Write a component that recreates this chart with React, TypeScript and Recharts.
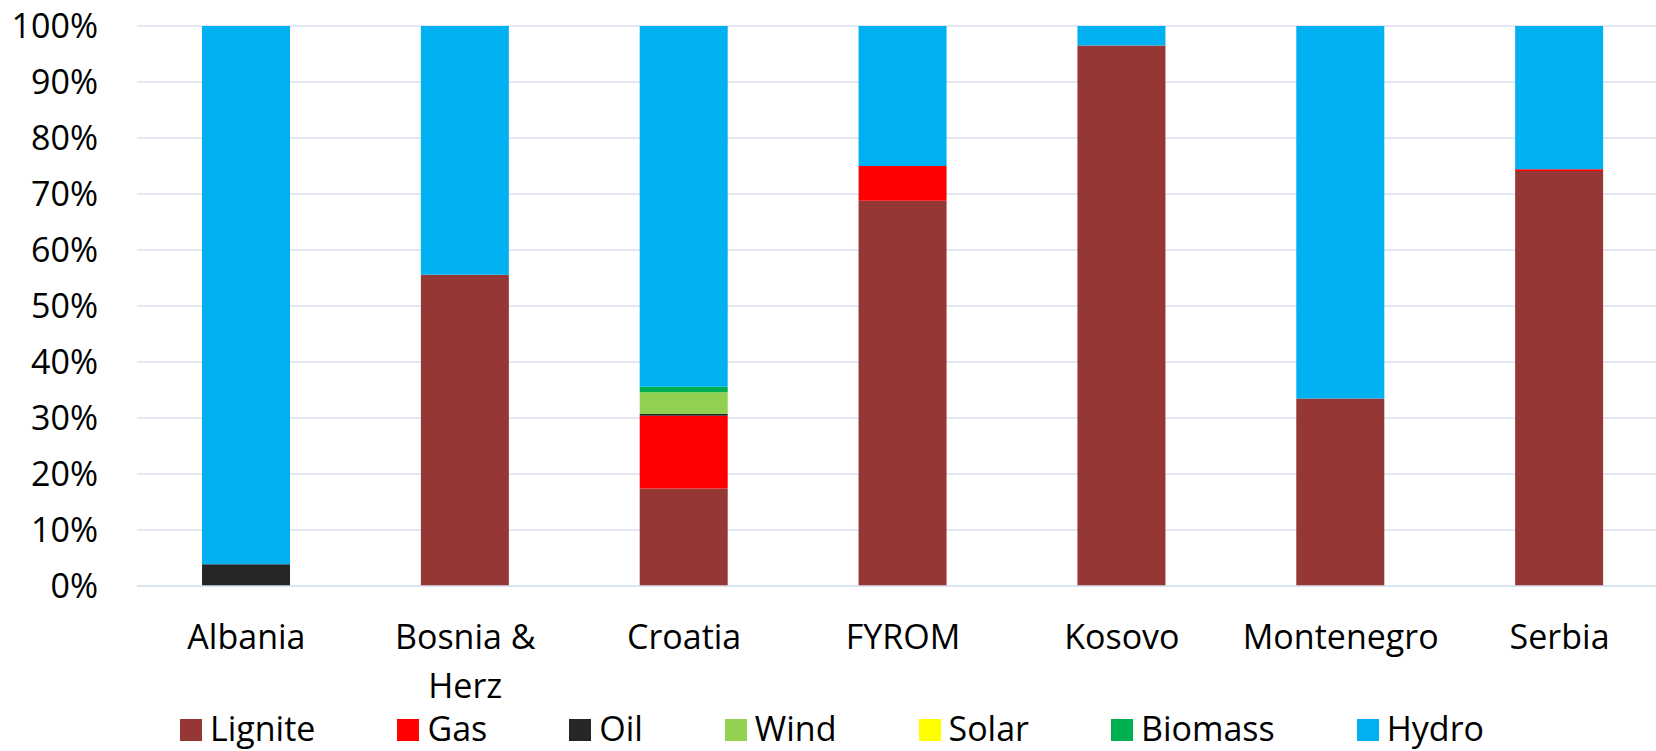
import { BarChart, Bar, XAxis, YAxis, CartesianGrid, Legend } from "recharts";

const categories = ["Albania", "Bosnia & Herz", "Croatia", "FYROM", "Kosovo", "Montenegro", "Serbia"];
const lignite = [0, 55.6, 17.4, 68.8, 96.5, 33.5, 74.1];
const gas = [0, 0, 13.0, 6.2, 0, 0, 0.3];
const oil = [3.9, 0, 0.3, 0, 0, 0, 0];
const wind = [0, 0, 3.9, 0, 0, 0, 0];
const solar = [0, 0, 0, 0, 0, 0, 0];
const biomass = [0, 0, 1.0, 0, 0, 0, 0];
const hydro = [96.1, 44.4, 64.4, 25.0, 3.5, 66.5, 25.6];
const yTicks = [0, 10, 20, 30, 40, 50, 60, 70, 80, 90, 100];

const series = [
  { key: "Lignite", values: lignite, color: "#953735" },
  { key: "Gas", values: gas, color: "#ff0000" },
  { key: "Oil", values: oil, color: "#262626" },
  { key: "Wind", values: wind, color: "#92d050" },
  { key: "Solar", values: solar, color: "#ffff00" },
  { key: "Biomass", values: biomass, color: "#00b050" },
  { key: "Hydro", values: hydro, color: "#00b0f0" },
];

const data = categories.map((name, i) => {
  const row: Record<string, string | number> = { name };
  series.forEach((s) => {
    row[s.key] = s.values[i];
  });
  return row;
});

const FONT = "'Open Sans', sans-serif";
const GRID = "#d9e2f1";

// greedy word wrap; a single long word keeps its own line
function wrapWords(label: string, maxChars: number) {
  const lines: string[] = [];
  label.split(" ").forEach((w) => {
    const last = lines[lines.length - 1];
    if (last !== undefined && (last + " " + w).length <= maxChars) {
      lines[lines.length - 1] = last + " " + w;
    } else {
      lines.push(w);
    }
  });
  return lines;
}

function CategoryTick({ x, y, payload }: any) {
  const lines = wrapWords(String(payload.value), 9);
  return (
    <text x={x} y={y + 55} textAnchor="middle" fontSize={34} fontFamily={FONT} fill="#000">
      {lines.map((line, i) => (
        <tspan key={i} x={x} dy={i === 0 ? 0 : 49}>
          {line}
        </tspan>
      ))}
    </text>
  );
}

function LegendRow() {
  return (
    <div
      style={{
        display: "flex",
        justifyContent: "center",
        alignItems: "center",
        height: 46,
        fontFamily: FONT,
        fontSize: 34,
        color: "#000",
        gap: 82,
        marginLeft: 8,
      }}
    >
      {series.map((s) => (
        <div key={s.key} style={{ display: "flex", alignItems: "center", gap: 8 }}>
          <span style={{ width: 22, height: 22, background: s.color, display: "inline-block", marginTop: 4 }} />
          <span style={{ lineHeight: "46px", display: "inline-block", height: 46 }}>{s.key}</span>
        </div>
      ))}
    </div>
  );
}

export default function App() {
  return (
    <div style={{ position: "absolute", left: 0, top: 0, width: 1656, height: 751, overflow: "hidden", background: "#fff" }}>
      <BarChart
        width={1656}
        height={751}
        data={data}
        barSize={88}
        margin={{ top: 26, right: -13, left: 0, bottom: 0 }}
      >
        <CartesianGrid vertical={false} stroke={GRID} strokeWidth={1.5} />
        <XAxis
          dataKey="name"
          height={119}
          axisLine={{ stroke: GRID, strokeWidth: 1.5 }}
          tickLine={false}
          interval={0}
          tick={<CategoryTick />}
        />
        <YAxis
          width={137}
          domain={[0, 100]}
          ticks={yTicks}
          axisLine={false}
          tickLine={false}
          tickSize={0}
          tickMargin={39}
          tickFormatter={(v: number) => `${v}%`}
          tick={{ fontSize: 34, fontFamily: FONT, fill: "#000" }}
        />
        <Legend
          verticalAlign="bottom"
          height={46}
          wrapperStyle={{ left: 0, width: 1656 }}
          content={<LegendRow />}
        />
        {series.map((s) => (
          <Bar key={s.key} dataKey={s.key} stackId="mix" fill={s.color} isAnimationActive={false} />
        ))}
      </BarChart>
    </div>
  );
}
